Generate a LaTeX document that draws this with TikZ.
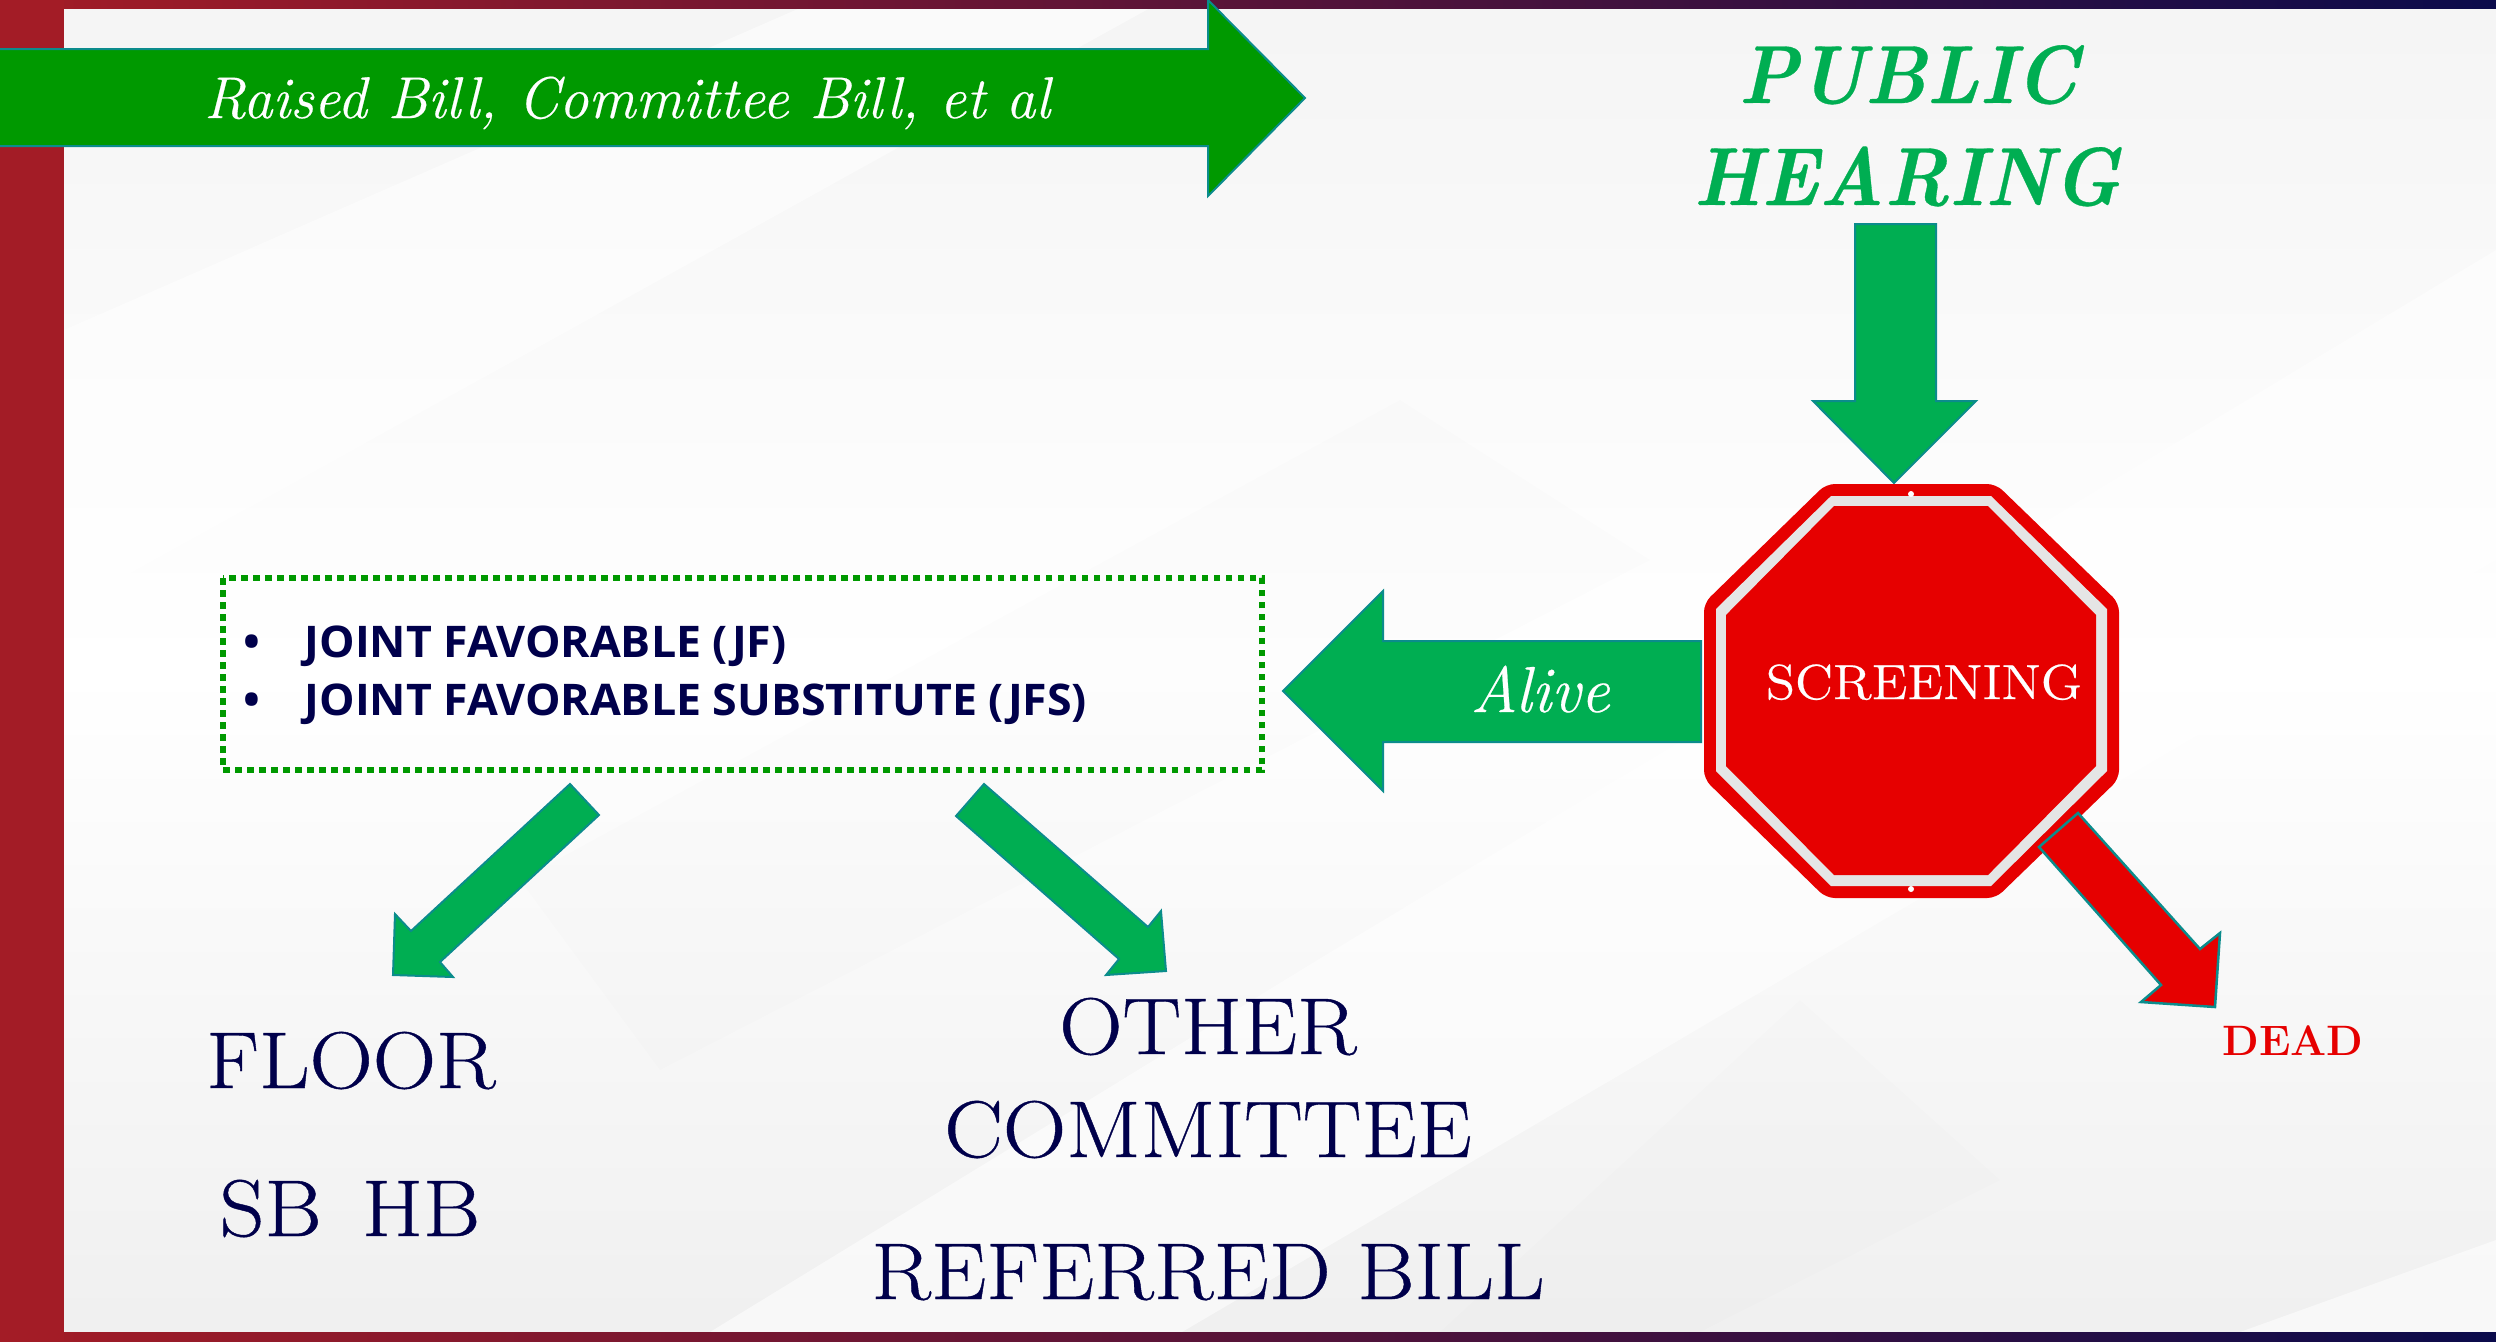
\documentclass[tikz,border=0pt]{standalone}
\usepackage{fontspec}
\usepackage{xcolor}
\usetikzlibrary{
    calc,
    positioning
}
\newfontfamily\labelsans[FakeStretch=1.025]{Open Sans}
\newfontfamily\didone[FakeStretch=1.09, FakeBold=0.5]{Latin Modern Roman}
\newfontfamily\hearingface[FakeStretch=0.92, FakeBold=0.4]{Latin Modern Roman}
\newfontfamily\billface[FakeBold=0.35]{Latin Modern Roman}
\definecolor{barred}{HTML}{A31C26}
\definecolor{barnavy}{HTML}{0B0B4B}
\definecolor{navy}{HTML}{00004B}
\definecolor{billgreen}{HTML}{009900}
\definecolor{hearinggreen}{HTML}{00AE52}
\definecolor{stopred}{HTML}{E60000}
\definecolor{edgeteal}{HTML}{0B8C8C}
\tikzset{
    blockgreen/.style={fill=hearinggreen, draw=edgeteal, line width=0.2mm},
    blockdark/.style={fill=billgreen, draw=edgeteal, line width=0.2mm},
    blockred/.style={fill=stopred, draw=edgeteal, line width=0.25mm},
    bandgrey/.style={fill=black, fill opacity=0.009, draw=none},
    bandwhite/.style={fill=white, fill opacity=0.55, draw=none},
    txt/.style={inner sep=0pt, anchor=base},
    serifnavy/.style={txt, text=navy, font=\didone\fontsize{22.9}{26}\selectfont},
    hearingtxt/.style={txt, text=hearinggreen, font=\hearingface\bfseries\itshape\fontsize{23.4}{28}\selectfont},
    listitem/.style={inner sep=0pt, anchor=base west, text=navy, font=\labelsans\bfseries\fontsize{12.4}{14}\selectfont}
}
\begin{document}
\begin{tikzpicture}[x=0.01cm, y=-0.01cm]
    \useasboundingbox (0, 0) rectangle (2496, 1341);
    \shade[top color=black!4, bottom color=black!6, middle color=white] (64, 8) rectangle (2496, 1332);
    \fill[bandwhite] (64, 330) -- (800, 8) -- (1150, 8) -- (64, 610) -- cycle;
    \fill[bandgrey] (520, 880) -- (1400, 400) -- (1650, 560) -- (660, 1070) -- cycle;
    \fill[bandgrey] (1440, 1332) -- (1800, 1000) -- (2000, 1180) -- (1700, 1332) -- cycle;
    \fill[bandwhite] (710, 1332) -- (1334, 950) -- (2496, 250) -- (2496, 560) -- (1182, 1332) -- cycle;
    \fill[bandwhite] (2240, 1332) -- (2496, 1240) -- (2496, 1332) -- cycle;

    \shade[left color=barred, right color=barnavy] (0, 0) rectangle (2496, 8);
    \shade[left color=barred, right color=barnavy] (0, 1332) rectangle (2496, 1341);
    \fill[barred] (0, 0) rectangle (64, 1341);

    \draw[blockdark] (-5, 49) -- (1208, 49) -- (1208, 0) -- (1305, 98) -- (1208, 196) -- (1208, 146) -- (-5, 146) -- cycle;
    \node[txt, text=white, font=\billface\itshape\fontsize{16.75}{20}\selectfont] (raised) at (627, 118) {Raised Bill, Committee Bill, et al};

    \node[hearingtxt] (public) at (1908, 103) {PUBLIC};
    \node[hearingtxt] (hearing) at (1907, 205) {HEARING};
    \draw[blockgreen] (1855, 224) -- (1936, 224) -- (1936, 401) -- (1976, 401) -- (1894, 483) -- (1813, 401) -- (1855, 401) -- cycle;

    \fill[stopred, rounded corners=2.5pt] (1826, 484) -- (1996, 484) -- (2119, 603) -- (2119, 779) -- (1996, 898) -- (1826, 898) -- (1704, 779) -- (1704, 603) -- cycle;
    \fill[black!10] (1831, 496) -- (1991, 496) -- (2107, 609) -- (2107, 771) -- (1991, 886) -- (1831, 886) -- (1716, 771) -- (1716, 609) -- cycle;
    \fill[stopred] (1834, 506) -- (1988, 506) -- (2096, 615) -- (2096, 766) -- (1988, 875) -- (1834, 875) -- (1726, 766) -- (1726, 615) -- cycle;
    \fill[white] (1911, 494) circle (3);
    \fill[white] (1911, 889) circle (3);
    \node[txt, text=white, font=\didone\fontsize{14}{17}\selectfont] (screening) at (1924, 699) {SCREENING};

    \draw[blockgreen] (1701, 641) -- (1383, 641) -- (1383, 591) -- (1283, 691) -- (1383, 791) -- (1383, 742) -- (1701, 742) -- cycle;
    \node[txt, text=white, font=\billface\itshape\fontsize{18.5}{20}\selectfont] (alive) at (1540, 712) {Alive};

    \draw[blockred] (2078, 813) -- (2200, 949) -- (2220, 933) -- (2215, 1007) -- (2141, 1002) -- (2161, 985) -- (2039, 847) -- cycle;
    \node[txt, text=stopred, font=\bfseries\fontsize{12.1}{14}\selectfont] (dead) at (2293, 1055) {DEAD};

    \draw[billgreen, line width=0.06cm, dash pattern=on 0.066cm off 0.054cm] (223, 578) rectangle (1262, 770);
    \node[listitem] (jf) at (243, 657) {\makebox[0.61cm][l]{\textbullet}JOINT FAVORABLE (JF)};
    \node[listitem] (jfs) at (243, 715) {\makebox[0.61cm][l]{\textbullet}JOINT FAVORABLE SUBSTITUTE (JFS)};

    \draw[blockgreen] (570, 784) -- (599, 815) -- (440, 962) -- (453, 977) -- (393, 975) -- (395, 914) -- (411, 931) -- cycle;
    \draw[blockgreen] (984, 784) -- (956, 816) -- (1119, 959) -- (1106, 975) -- (1166, 971) -- (1161, 911) -- (1148, 927) -- cycle;

    \node[serifnavy] (floor) at (351, 1088) {FLOOR};
    \node[serifnavy] (sbhb) at (350, 1236) {SB\hspace{0.5em}HB};
    \node[serifnavy] (other) at (1208, 1054) {OTHER};
    \node[serifnavy] (committee) at (1208, 1157) {COMMITTEE};
    \node[serifnavy] (referred) at (1208, 1299) {REFERRED BILL};
\end{tikzpicture}
\end{document}
